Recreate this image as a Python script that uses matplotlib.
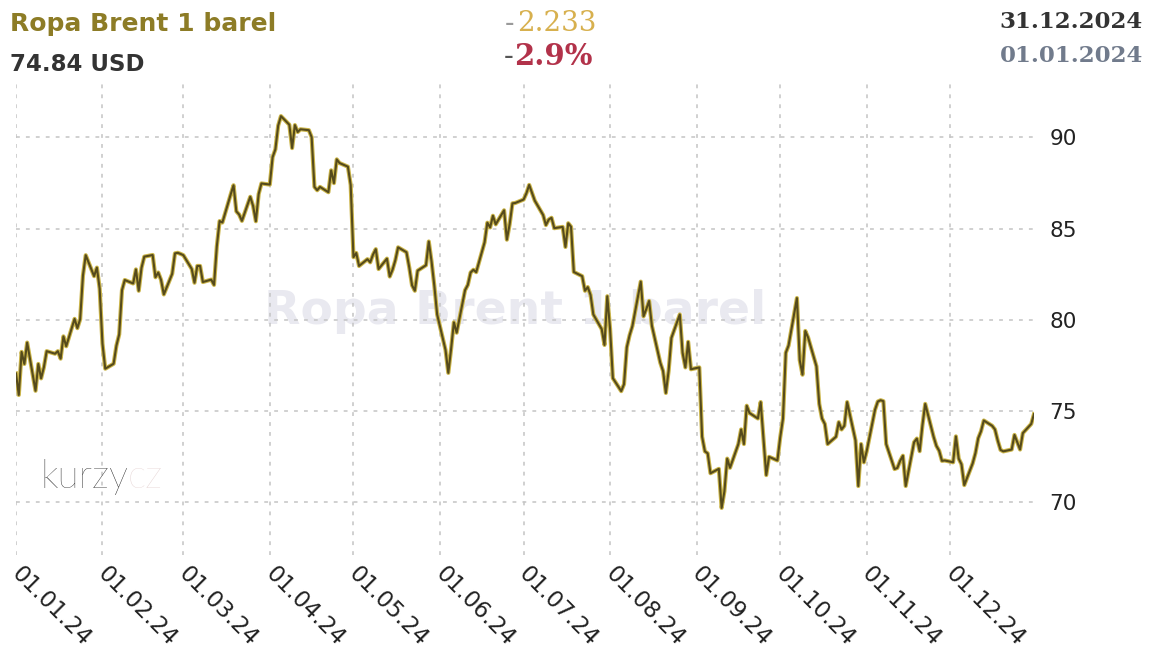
import datetime as dt
import matplotlib
matplotlib.use("Agg")
import matplotlib.pyplot as plt
import matplotlib.dates as mdates
import matplotlib.transforms as mtransforms

# Brent 1 barel, 2024 - daily prices (USD), read per month
jan_days = [1, 2, 3, 4, 5, 8, 9, 10, 11, 12, 15, 16, 17, 18, 19, 22, 23, 24, 25, 26, 29, 30, 31]
jan_vals = [77.07, 75.89, 78.25, 77.59, 78.76, 76.12, 77.59, 76.80, 77.41, 78.29, 78.15, 78.29,
            77.88, 79.10, 78.56, 80.06, 79.55, 80.04, 82.43, 83.55, 82.40, 82.87, 81.71]

feb_days = [1, 2, 5, 6, 7, 8, 9, 12, 13, 14, 15, 16, 19, 20, 21, 22, 23, 26, 27, 28, 29]
feb_vals = [78.70, 77.33, 77.60, 78.59, 79.21, 81.63, 82.19, 82.00, 82.77, 81.60, 82.86, 83.47,
            83.56, 82.34, 82.60, 82.20, 81.40, 82.53, 83.65, 83.68, 83.62]

mar_days = [1, 4, 5, 6, 7, 8, 11, 12, 13, 14, 15, 18, 19, 20, 21, 22, 25, 26, 27, 28, 29]
mar_vals = [83.55, 82.80, 82.04, 82.96, 82.96, 82.08, 82.21, 81.92, 84.03, 85.42, 85.34, 86.89,
            87.38, 85.95, 85.78, 85.43, 86.75, 86.25, 85.41, 86.90, 87.48]

apr_days = [1, 2, 3, 4, 5, 8, 9, 10, 11, 12, 15, 16, 17, 18, 19, 22, 23, 24, 25, 26, 29, 30]
apr_vals = [87.42, 88.92, 89.35, 90.65, 91.17, 90.70, 89.42, 90.68, 90.30, 90.45, 90.40, 90.02,
            87.29, 87.11, 87.29, 87.00, 88.20, 87.50, 88.80, 88.60, 88.40, 87.40]

may_days = [1, 2, 3, 6, 7, 8, 9, 10, 13, 14, 15, 16, 17, 20, 21, 22, 23, 24, 27, 28, 29, 30, 31]
may_vals = [83.44, 83.67, 82.96, 83.33, 83.16, 83.58, 83.88, 82.79, 83.36, 82.38, 82.75, 83.27,
            83.98, 83.71, 82.88, 81.90, 81.60, 82.70, 83.00, 84.30, 83.20, 81.86, 80.30]

jun_days = [3, 4, 5, 6, 7, 10, 11, 12, 13, 14, 17, 18, 19, 20, 21, 24, 25, 26, 27, 28]
jun_vals = [78.36, 77.10, 78.41, 79.87, 79.30, 81.63, 81.92, 82.60, 82.75, 82.62, 84.25, 85.33,
            85.07, 85.71, 85.24, 86.01, 84.40, 85.25, 86.39, 86.41]

jul_days = [1, 2, 3, 5, 8, 9, 10, 11, 12, 15, 16, 17, 18, 19, 22, 23, 24, 25, 26, 29, 30, 31]
jul_vals = [86.60, 86.94, 87.40, 86.54, 85.75, 85.20, 85.50, 85.60, 85.03, 85.10, 84.00, 85.30,
            85.11, 82.63, 82.40, 81.60, 81.80, 81.37, 80.30, 79.50, 78.63, 81.30]

aug_days = [1, 2, 5, 6, 7, 8, 9, 12, 13, 14, 15, 16, 19, 20, 21, 22, 23, 26, 27, 28, 29, 30]
aug_vals = [79.52, 76.81, 76.10, 76.48, 78.50, 79.16, 79.66, 82.10, 80.20, 80.60, 81.04, 79.68,
            77.66, 77.20, 76.00, 77.22, 79.02, 80.30, 78.20, 77.40, 78.80, 77.30]

sep_days = [2, 3, 4, 5, 6, 9, 10, 11, 12, 13, 16, 17, 18, 19, 20, 23, 24, 25, 26, 27, 30]
sep_vals = [77.40, 73.60, 72.80, 72.69, 71.60, 71.84, 69.70, 70.61, 72.40, 71.90, 73.20, 74.00,
            73.20, 75.30, 74.90, 74.60, 75.50, 73.46, 71.50, 72.50, 72.30]

oct_days = [1, 2, 3, 4, 7, 8, 9, 10, 11, 14, 15, 16, 17, 18, 21, 22, 23, 24, 25, 28, 29, 30, 31]
oct_vals = [73.56, 74.60, 78.20, 78.60, 81.20, 77.80, 77.00, 79.40, 79.04, 77.46, 75.40, 74.60,
            74.30, 73.20, 73.60, 74.40, 74.00, 74.20, 75.50, 73.40, 70.90, 73.20, 72.20]

nov_days = [1, 4, 5, 6, 7, 8, 11, 12, 13, 14, 15, 18, 19, 20, 21, 22, 25, 26, 27, 28, 29]
nov_vals = [72.80, 75.08, 75.53, 75.60, 75.55, 73.20, 71.83, 71.89, 72.28, 72.56, 70.90, 73.30,
            73.50, 72.81, 74.23, 75.40, 73.60, 73.10, 72.83, 72.28, 72.30]

dec_days = [2, 3, 4, 5, 6, 9, 10, 11, 12, 13, 16, 17, 18, 19, 20, 23, 24, 26, 27, 30, 31]
dec_vals = [72.20, 73.62, 72.40, 72.09, 70.95, 72.14, 72.70, 73.52, 73.90, 74.49, 74.20, 74.00,
            73.39, 72.88, 72.80, 72.90, 73.70, 72.90, 73.80, 74.30, 74.84]

months = [(jan_days, jan_vals), (feb_days, feb_vals), (mar_days, mar_vals), (apr_days, apr_vals),
          (may_days, may_vals), (jun_days, jun_vals), (jul_days, jul_vals), (aug_days, aug_vals),
          (sep_days, sep_vals), (oct_days, oct_vals), (nov_days, nov_vals), (dec_days, dec_vals)]

dates, prices = [], []
for m, (days, vals) in enumerate(months, start=1):
    for d, v in zip(days, vals):
        dates.append(dt.date(2024, m, d))
        prices.append(v)

y_ticks = [70, 75, 80, 85, 90]
month_ticks = [dt.date(2024, m, 1) for m in range(1, 13)]

W, H = 1157, 649


def px(x, y):
    return x / W, 1 - y / H


fig = plt.figure(figsize=(W / 100, H / 100), dpi=100)
ax = fig.add_axes([16 / W, 1 - 555 / H, (1034 - 16) / W, (555 - 80) / H])
ax.set_facecolor("none")

# faint watermark behind the line
ax.text(*px(515, 312), "Ropa Brent 1 barel", transform=fig.transFigure, ha="center", va="center",
        fontsize=34, fontweight="bold", color="#e9e9f0", zorder=0)

ax.plot(dates, prices, color="#cbb54a", lw=3.0, zorder=3, solid_joinstyle="round")
ax.plot(dates, prices, color="#554a1c", lw=1.5, zorder=4, solid_joinstyle="round")

ax.set_xlim(dt.date(2024, 1, 1), dt.date(2024, 12, 31))
ax.set_ylim(67.12, 93.15)
ax.set_yticks(y_ticks)
ax.set_xticks(month_ticks)
ax.xaxis.set_major_formatter(mdates.DateFormatter("%d.%m.%y"))

ax.yaxis.tick_right()
ax.tick_params(axis="y", length=0, pad=11, labelsize=15.5, labelcolor="#222222")
ax.tick_params(axis="x", length=0, pad=5, labelsize=16.5, labelcolor="#222222")
shift = mtransforms.ScaledTranslation(7 / 100, 0, fig.dpi_scale_trans)
for lab in ax.get_xticklabels():
    lab.set_rotation(-45)
    lab.set_rotation_mode("anchor")
    lab.set_ha("left")
    lab.set_va("top")
    lab.set_transform(lab.get_transform() + shift)

ax.grid(True, color="#c4c4c4", lw=1.1, linestyle=(0, (2.5, 4)))
for s in ax.spines.values():
    s.set_visible(False)

# header
fig.text(*px(10, 31), "Ropa Brent 1 barel", fontsize=18, fontweight="bold", color="#8d7c26",
         va="baseline")
fig.text(*px(10, 71), "74.84 USD", fontsize=16.5, fontweight="bold", color="#333333", va="baseline")

fig.text(*px(505, 31), "-", family="DejaVu Serif", fontsize=20, color="#9a9a9a", va="baseline")
fig.text(*px(517, 31), "2.233", family="DejaVu Serif", fontsize=20, color="#d7b04e", va="baseline")
fig.text(*px(504, 65), "-", family="DejaVu Serif", fontsize=21, color="#555555", va="baseline")
fig.text(*px(514, 65), "2.9%", family="DejaVu Serif", fontsize=21, fontweight="bold",
         color="#b2324a", va="baseline")

fig.text(*px(1143, 28), "31.12.2024", family="DejaVu Serif", fontsize=16.5, fontweight="bold",
         color="#333333", ha="right", va="baseline")
fig.text(*px(1143, 62), "01.01.2024", family="DejaVu Serif", fontsize=16.5, fontweight="bold",
         color="#717b8c", ha="right", va="baseline")

# kurzy.cz logo
logo = fig.text(*px(40, 488), "kurzy", family=["Lato", "DejaVu Sans"], fontweight="light",
                fontsize=28, color="#1e1e1e", va="baseline")
fig.canvas.draw()
logo_end = logo.get_window_extent().x1
fig.text(logo_end / W, 1 - 488 / H, "cz", family=["Lato", "DejaVu Sans"], fontweight="light",
         fontsize=28, color="#e3d0d0", va="baseline")

fig.savefig("out.png", dpi=100)
